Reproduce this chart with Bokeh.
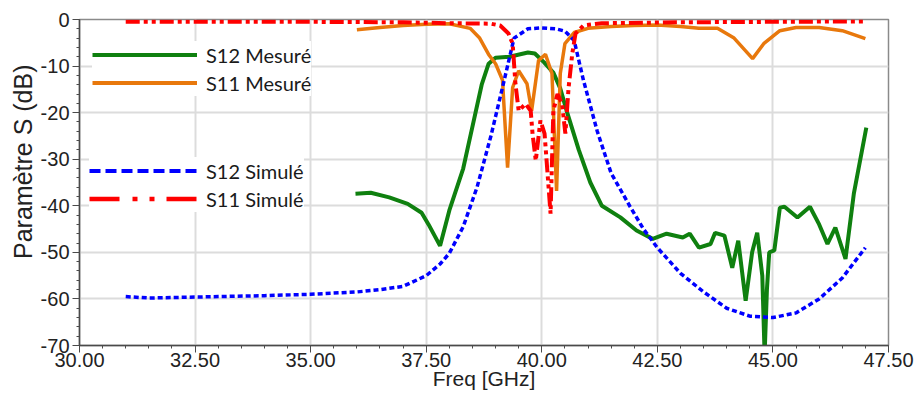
import numpy as np
from bokeh.plotting import figure
from bokeh.models import (Legend, LegendItem, FixedTicker, PrintfTickFormatter,
                          Title, ColumnDataSource)
from bokeh.embed import file_html
from bokeh.resources import INLINE

# ---------------- data ----------------
s12_sim_f = [31.0, 31.5, 32.0, 33.0, 34.0, 35.0, 36.0, 36.5, 37.0, 37.5, 37.8, 38.0,
             38.3, 38.6, 38.9, 39.2, 39.4, 39.7, 40.0, 40.3, 40.5, 40.7, 40.9, 41.2,
             41.5, 41.9, 42.2, 42.5, 43.0, 43.5, 44.0, 44.5, 45.0, 45.5, 46.0, 46.5, 47.0]
s12_sim_db = [-59.5, -59.8, -59.7, -59.5, -59.3, -59.0, -58.5, -58.0, -57.3, -55.0, -52.5, -50.2,
              -44.5, -36.0, -25.0, -12.5, -4.0, -2.0, -1.8, -2.0, -2.5, -4.5, -13.0, -24.0,
              -33.0, -40.0, -45.0, -49.0, -54.5, -58.5, -62.0, -63.7, -64.0, -63.0, -60.0, -55.5, -49.0]

s11_sim_f = [31.0, 33.0, 35.0, 37.0, 38.0, 38.9, 39.1, 39.28, 39.37, 39.43, 39.5, 39.65,
             39.76, 39.8, 39.87, 39.97, 40.06, 40.19, 40.25, 40.34, 40.44, 40.51, 40.58,
             40.66, 40.73, 40.9, 41.3, 43.0, 45.0, 47.0]
s11_sim_db = [-0.5, -0.5, -0.5, -0.6, -0.8, -0.9, -1.3, -3.0, -5.2, -13.8, -19.6, -18.1,
              -19.6, -24.5, -30.3, -21.7, -24.5, -41.7, -19.6, -16.0, -18.1, -24.5, -14.6,
              -7.3, -3.0, -1.3, -0.8, -0.6, -0.5, -0.4]

s12_mes_f = [35.97, 36.3, 36.7, 37.1, 37.4, 37.55, 37.8, 38.0, 38.3, 38.5, 38.7, 38.85,
             39.0, 39.3, 39.7, 39.85, 40.05, 40.25, 40.4, 40.55, 40.8, 41.05, 41.3, 41.7,
             42.05, 42.4, 42.7, 43.05, 43.2, 43.4, 43.65, 43.75, 43.95, 44.12, 44.25, 44.41,
             44.55, 44.66, 44.77, 44.82, 44.87, 44.92, 45.03, 45.15, 45.25, 45.53, 45.8,
             46.0, 46.18, 46.35, 46.57, 46.75, 47.02]
s12_mes_db = [-37.4, -37.2, -38.2, -39.6, -41.5, -44.0, -48.6, -41.0, -32.0, -23.0, -14.0, -9.5,
              -8.2, -8.0, -7.1, -7.3, -9.2, -11.4, -14.8, -20.0, -28.0, -35.0, -40.0, -42.5,
              -45.3, -47.1, -46.0, -46.8, -46.0, -49.0, -48.2, -45.8, -46.4, -53.3, -47.5, -60.4,
              -50.0, -45.8, -55.0, -72.0, -58.0, -50.0, -49.6, -40.4, -40.2, -42.5, -40.2,
              -44.0, -48.2, -44.7, -51.4, -37.4, -23.2]

s11_mes_f = [36.0, 36.5, 37.0, 37.5, 38.0, 38.45, 38.65, 38.85, 39.0, 39.15, 39.26, 39.37,
             39.5, 39.68, 39.78, 39.93, 40.08, 40.22, 40.32, 40.4, 40.5, 40.7, 41.0, 41.5,
             42.0, 42.5, 43.0, 43.4, 43.8, 44.15, 44.56, 44.8, 45.15, 45.5, 46.0, 46.5, 47.0]
s11_mes_db = [-2.2, -1.7, -1.3, -1.0, -0.9, -1.9, -3.9, -7.5, -9.5, -13.0, -31.8, -14.6,
              -11.0, -13.8, -19.6, -8.8, -7.5, -11.6, -36.8, -11.6, -5.2, -2.8, -1.9, -1.5,
              -1.3, -1.2, -1.5, -1.9, -1.9, -3.9, -8.4, -5.2, -2.4, -1.7, -1.7, -2.4, -4.1]

x_major = [30.0, 32.5, 35.0, 37.5, 40.0, 42.5, 45.0, 47.5]
y_major = [0, -10, -20, -30, -40, -50, -60, -70]

GREEN = "#0f800f"
ORANGE = "#e8780c"
BLUE = "#0000ff"
RED = "#ff0000"

p = figure(width=917, height=396, x_range=(30, 47.5), y_range=(-70, 0),
           output_backend="svg", toolbar_location=None,
           min_border_left=79, min_border_right=29, min_border_top=19, min_border_bottom=51)

p.background_fill_color = "white"
p.border_fill_color = "white"
p.outline_line_color = "#8a8a8a"
p.outline_line_width = 1.5

# ticks / grid
p.xaxis.ticker = FixedTicker(ticks=x_major, minor_ticks=list(np.arange(30, 47.51, 0.5)))
p.yaxis.ticker = FixedTicker(ticks=y_major, minor_ticks=list(np.arange(-70, 0.01, 2)))
p.xgrid.ticker = FixedTicker(ticks=x_major)
p.ygrid.ticker = FixedTicker(ticks=y_major)
p.xaxis.formatter = PrintfTickFormatter(format="%.2f")
p.yaxis.formatter = PrintfTickFormatter(format="%d")
for g in (p.xgrid, p.ygrid):
    g.grid_line_color = "#dcdcdc"
    g.grid_line_width = 2
for ax in (p.xaxis, p.yaxis):
    ax.axis_line_color = "#4a4a4a"
    ax.axis_line_width = 1.5
    ax.major_tick_line_color = "#4a4a4a"
    ax.minor_tick_line_color = "#4a4a4a"
    ax.major_tick_in = 0
    ax.minor_tick_in = 0
    ax.major_tick_out = 7
    ax.minor_tick_out = 3
    ax.major_label_text_font = "Liberation Sans"
    ax.major_label_text_font_size = "20px"
    ax.major_label_text_color = "#222222"
p.xaxis.major_label_standoff = 0
p.yaxis.major_label_standoff = 3

# x axis title
p.xaxis.axis_label = "Freq [GHz]"
p.xaxis.axis_label_text_font = "Liberation Sans"
p.xaxis.axis_label_text_font_size = "21px"
p.xaxis.axis_label_text_font_style = "normal"
p.xaxis.axis_label_text_color = "#222222"
p.xaxis.axis_label_standoff = -3

# y axis title (placed higher than centre, as in the reference)
p.add_layout(Title(text="Paramètre S (dB)", align="right", offset=45, standoff=2,
                   text_font="Liberation Sans", text_font_size="25px",
                   text_font_style="normal", text_color="#222222"), "left")

# curves
r_s12m = p.line(s12_mes_f, s12_mes_db, line_color=GREEN, line_width=4)
r_s11m = p.line(s11_mes_f, s11_mes_db, line_color=ORANGE, line_width=3.5)
r_s12s = p.line(s12_sim_f, s12_sim_db, line_color=BLUE, line_width=3.5, line_dash="5 3")
r_s11s = p.line(s11_sim_f, s11_sim_db, line_color=RED, line_width=4, line_dash="14 4 4 4 4 4")


# legend-only glyphs (one point each -> nothing visible in the plot area)
def proxy(fx, fy, **kw):
    src = ColumnDataSource(data=dict(x=[fx[0]], y=[fy[0]]))
    return p.line("x", "y", source=src, **kw)


l_s12m = proxy(s12_mes_f, s12_mes_db, line_color=GREEN, line_width=4)
l_s11m = proxy(s11_mes_f, s11_mes_db, line_color=ORANGE, line_width=4)
l_s12s = proxy(s12_sim_f, s12_sim_db, line_color=BLUE, line_width=4, line_dash="11 5")
l_s11s = proxy(s11_sim_f, s11_sim_db, line_color=RED, line_width=4.5,
               line_dash="30 13 5 12 5 12")


def make_legend(items, loc, gw):
    return Legend(items=items, location=loc, orientation="vertical",
                  glyph_width=gw, glyph_height=27, label_height=27, label_standoff=9,
                  spacing=1, padding=10, margin=0, border_line_color=None,
                  background_fill_color="white", background_fill_alpha=1.0,
                  label_text_font="Lato", label_text_font_size="20px",
                  label_text_color="#1a1a1a")


leg1 = make_legend([LegendItem(label="S12 Mesuré", renderers=[l_s12m]),
                    LegendItem(label="S11 Mesuré", renderers=[l_s11m])], (13, 249), 105)
leg2 = make_legend([LegendItem(label="S12 Simulé", renderers=[l_s12s]),
                    LegendItem(label="S11 Simulé", renderers=[l_s11s])], (10, 133), 108)
p.add_layout(leg1)
p.add_layout(leg2)

open("out.html", "w").write(file_html(p, INLINE))
